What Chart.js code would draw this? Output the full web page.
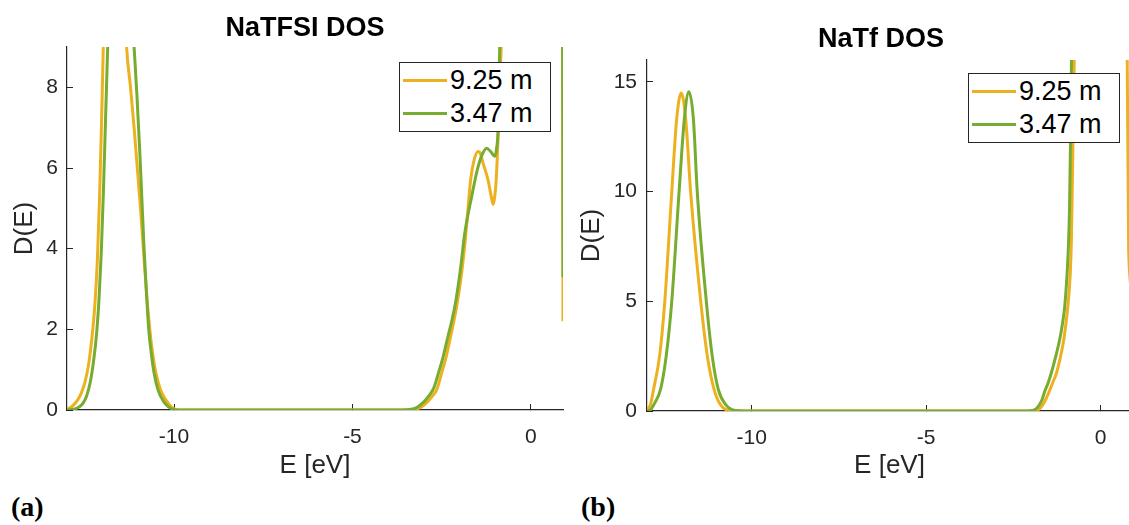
<!DOCTYPE html>
<html lang="en">
<head>
  <meta charset="UTF-8" />
  <title>NaTFSI / NaTf DOS</title>
  <script src="https://cdn.jsdelivr.net/npm/chart.js"></script>
  <style>
    html, body {
      margin: 0;
      padding: 0;
      width: 1129px;
      height: 525px;
      overflow: hidden;
      background: #fff;
      position: relative;
    }
    canvas { position: absolute; top: 0; }
    .title {
      position: absolute;
      transform: translate(-50%, -50%);
      font-family: 'Liberation Sans', Arial, sans-serif;
      font-weight: bold;
      font-size: 27px;
      white-space: nowrap;
      color: #000;
    }
    .legend {
      position: absolute;
      box-sizing: border-box;
      width: 152px;
      height: 70px;
      border: 1px solid #262626;
      background: #fff;
      font-family: 'Liberation Sans', Arial, sans-serif;
      font-size: 27px;
      color: #000;
    }
    .legend .row {
      position: absolute;
      left: 3px;
      height: 30px;
      display: flex;
      align-items: center;
      white-space: nowrap;
    }
    .legend .swatch { width: 44px; height: 3px; margin-right: 3px; }
    .tag {
      position: absolute;
      top: 492px;
      line-height: 30px;
      font-family: 'Liberation Serif', 'DejaVu Serif', serif;
      font-weight: bold;
      font-size: 28px;
    }
  </style>
</head>
<body>
  <canvas id="tfsiChart" width="570" height="490" style="left:0px"></canvas>
  <canvas id="tfChart" width="567" height="490" style="left:575px"></canvas>

  <div class="title" style="left:305px; top:27px">NaTFSI DOS</div>
  <div class="title" style="left:881px; top:38px">NaTf DOS</div>

  <div class="legend" id="tfsiLegend" style="left:399px; top:62px"></div>
  <div class="legend" id="tfLegend" style="left:968px; top:73px"></div>

  <div class="tag" style="left:11px">(a)</div>
  <div class="tag" style="left:581px">(b)</div>

  <script>
    // concentrations shown in the legends
    const seriesNames = ['9.25 m', '3.47 m'];

    // NaTFSI, 9.25 m
    const tfsiE925 = [-13.0, -12.9, -12.8, -12.7, -12.6, -12.5, -12.4, -12.3, -12.22, -12.15, -12.09, -12.03,
      -11.97, -11.88, -11.65, -11.45, -11.33, -11.22, -11.12, -11.03, -10.94, -10.86, -10.77, -10.68,
      -10.6, -10.51, -10.38, -10.23, -10.1, -10.0, -9.85,
      -3.5, -3.3, -3.1, -2.9, -2.75, -2.64, -2.5, -2.38, -2.27, -2.17, -2.08, -1.94, -1.83, -1.76,
      -1.69, -1.59, -1.48, -1.41, -1.34, -1.2, -1.11, -1.06, -1.02, -0.98, -0.94, -0.9, -0.86, -0.82,
      -0.7, 0.5, 0.88, 0.9];
    const tfsiD925 = [0.02, 0.06, 0.14, 0.25, 0.42, 0.68, 1.1, 1.8, 2.6, 3.7, 5.2, 7.2,
      9.5, 12.5, 16.0, 11.5, 9.0, 8.0, 7.0, 6.0, 5.0, 4.0, 2.9, 2.0,
      1.4, 0.92, 0.5, 0.25, 0.1, 0.03, 0.0,
      0.0, 0.01, 0.06, 0.2, 0.36, 0.5, 0.92, 1.3, 1.74, 2.15, 2.57, 3.4, 4.3, 5.0,
      5.7, 6.2, 6.41, 6.35, 6.12, 5.7, 5.29, 5.1, 5.25, 5.6, 6.3, 7.2, 8.3, 9.3,
      13.0, 14.0, 12.0, 2.2];

    // NaTFSI, 3.47 m
    const tfsiE347 = [-13.0, -12.8, -12.65, -12.55, -12.45, -12.35, -12.25, -12.17, -12.1, -12.04, -11.98,
      -11.92, -11.85, -11.75, -11.5, -11.35, -11.2, -11.12, -11.04, -10.96, -10.9, -10.84, -10.78,
      -10.71, -10.63, -10.56, -10.45, -10.3, -10.15, -10.0, -9.9,
      -3.6, -3.4, -3.2, -3.0, -2.85, -2.72, -2.58, -2.45, -2.33, -2.22, -2.12, -1.98, -1.85, -1.66,
      -1.5, -1.38, -1.24, -1.12, -1.01, -0.96, -0.92, -0.87, -0.8, 0.88, 0.9];
    const tfsiD347 = [0.0, 0.02, 0.08, 0.17, 0.35, 0.68, 1.25, 1.9, 2.8, 3.9, 5.4,
      7.2, 9.3, 12.5, 16.0, 13.0, 10.2, 9.0, 7.8, 6.4, 5.2, 4.0, 3.0,
      2.0, 1.35, 0.92, 0.5, 0.22, 0.07, 0.01, 0.0,
      0.0, 0.01, 0.06, 0.2, 0.36, 0.55, 0.95, 1.35, 1.8, 2.2, 2.62, 3.45, 4.4, 5.29,
      5.96, 6.3, 6.49, 6.4, 6.29, 6.5, 6.95, 9.2, 13.0, 14.0, 3.3];

    // NaTf, 9.25 m
    const tfE925 = [-13.0, -12.9, -12.81, -12.64, -12.49, -12.29, -12.15, -12.02, -11.89, -11.75, -11.46,
      -11.27, -11.08, -10.9, -10.65, -10.4,
      -2.0, -1.85, -1.75, -1.65, -1.55, -1.46, -1.37, -1.27, -1.16, -1.06, -1.0, -0.94, -0.87, -0.84,
      -0.82, -0.75, -0.6, 0.6, 0.74, 0.804, 0.9];
    const tfD925 = [0.05, 0.3, 1.0, 2.5, 5.0, 10.0, 13.3, 14.5, 13.3, 10.0, 5.0,
      2.5, 1.0, 0.3, 0.02, 0.0,
      0.0, 0.02, 0.1, 0.3, 0.6, 0.94, 1.3, 1.7, 2.4, 3.2, 3.9, 4.74, 6.26, 7.6,
      9.3, 16.5, 25.0, 25.0, 21.0, 7.3, 5.5];

    // NaTf, 3.47 m
    const tfE347 = [-13.0, -12.9, -12.8, -12.61, -12.45, -12.29, -12.08, -11.93, -11.8, -11.67, -11.56,
      -11.3, -11.13, -10.96, -10.75, -10.46, -10.2,
      -2.1, -1.95, -1.85, -1.75, -1.67, -1.6, -1.5, -1.42, -1.3, -1.18, -1.1, -1.03,
      -0.96, -0.92, -0.89, -0.86, -0.83, -0.7, 0.9];
    const tfD347 = [0.0, 0.05, 0.3, 1.0, 2.5, 5.0, 10.0, 13.3, 14.55, 13.3, 10.0,
      5.0, 2.5, 1.0, 0.3, 0.02, 0.0,
      0.0, 0.02, 0.1, 0.3, 0.55, 0.9, 1.3, 1.7, 2.4, 3.2, 3.9, 4.74,
      6.26, 7.6, 9.3, 12.5, 16.5, 25.0, 25.0];

    // tick marks
    const energyTicks = [-10, -5, 0];
    const tfsiYTicks = [0, 2, 4, 6, 8];
    const tfYTicks = [0, 5, 10, 15];

    const FONT = "'Liberation Sans', Arial, Helvetica, sans-serif";
    const AXIS = '#262626';
    const COLORS = ['#EDB120', '#77AC30'];

    // order: the 3.47 m curve sits on top of the 9.25 m one
    function curve(E, D, color, order) {
      return {
        data: E.map((e, i) => ({ x: e, y: D[i] })),
        borderColor: color,
        borderWidth: 3,
        pointRadius: 0,
        cubicInterpolationMode: 'monotone',
        fill: false,
        order: order
      };
    }

    function dosChart(id, o) {
      return new Chart(document.getElementById(id), {
        type: 'line',
        data: { datasets: o.datasets },
        options: {
          responsive: false,
          animation: false,
          events: [],
          layout: { padding: { left: 0, right: o.padRight, top: o.top, bottom: 0 } },
          plugins: {
            legend: { display: false },
            tooltip: { enabled: false }
          },
          scales: {
            x: {
              type: 'linear',
              min: -13,
              max: 0.9,
              afterBuildTicks: s => { s.ticks = energyTicks.map(v => ({ value: v })); },
              afterFit: s => { s.height = o.xHeight; },
              border: { color: AXIS, width: 1.2 },
              grid: { drawOnChartArea: false, tickLength: -6, color: AXIS, lineWidth: 1 },
              ticks: { color: AXIS, padding: 21, font: { family: FONT, size: 21 }, callback: v => String(v) },
              title: { display: true, text: 'E [eV]', color: AXIS, font: { family: FONT, size: 26 },
                       padding: { top: 0, bottom: 9 } }
            },
            y: {
              min: 0,
              max: o.yMax,
              afterBuildTicks: s => { s.ticks = o.yTicks.map(v => ({ value: v })); },
              afterFit: s => { s.width = o.yWidth; },
              border: { color: AXIS, width: 1.2 },
              grid: { drawOnChartArea: false, tickLength: -6, color: AXIS, lineWidth: 1 },
              ticks: { color: AXIS, padding: o.yPad, font: { family: FONT, size: 21 }, callback: v => String(v) },
              title: { display: true, text: 'D(E)', color: AXIS, font: { family: FONT, size: 26 },
                       padding: { top: o.yTitlePad, bottom: 0 } }
            }
          }
        }
      });
    }

    dosChart('tfsiChart', {
      datasets: [curve(tfsiE925, tfsiD925, COLORS[0], 2), curve(tfsiE347, tfsiD347, COLORS[1], 1)],
      yMax: 9, yTicks: tfsiYTicks, top: 47, padRight: 7, xHeight: 80, yWidth: 67, yPad: 15, yTitlePad: 9
    });

    dosChart('tfChart', {
      datasets: [curve(tfE925, tfD925, COLORS[0], 2), curve(tfE347, tfD347, COLORS[1], 1)],
      yMax: 16, yTicks: tfYTicks, top: 60, padRight: 10, xHeight: 79, yWidth: 72, yPad: 16, yTitlePad: 1
    });

    // legends drawn inside the axes, top right
    function buildLegend(id) {
      const box = document.getElementById(id);
      seriesNames.forEach((name, i) => {
        const row = document.createElement('div');
        row.className = 'row';
        row.style.top = (2 + i * 33) + 'px';
        const sw = document.createElement('span');
        sw.className = 'swatch';
        sw.style.background = COLORS[i];
        const label = document.createElement('span');
        label.textContent = name;
        row.appendChild(sw);
        row.appendChild(label);
        box.appendChild(row);
      });
    }
    buildLegend('tfsiLegend');
    buildLegend('tfLegend');
  </script>
</body>
</html>
